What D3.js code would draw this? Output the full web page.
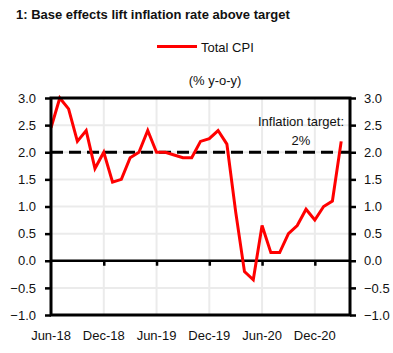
<!DOCTYPE html>
<html>
<head>
<meta charset="utf-8">
<script src="https://cdn.jsdelivr.net/npm/d3@7"></script>
<style>
  body { margin: 0; background: #fff; }
  text { font-family: "Liberation Sans", Arial, sans-serif; fill: #111; }
</style>
</head>
<body>
<div id="chart"></div>
<script>
// データ（月次、Jun-18 〜 Mar-21）
const months = ["Jun-18","Jul-18","Aug-18","Sep-18","Oct-18","Nov-18","Dec-18",
  "Jan-19","Feb-19","Mar-19","Apr-19","May-19","Jun-19","Jul-19","Aug-19","Sep-19","Oct-19","Nov-19","Dec-19",
  "Jan-20","Feb-20","Mar-20","Apr-20","May-20","Jun-20","Jul-20","Aug-20","Sep-20","Oct-20","Nov-20","Dec-20",
  "Jan-21","Feb-21","Mar-21"];
const cpi = [2.45, 3.0, 2.8, 2.2, 2.4, 1.7, 2.0,
  1.45, 1.5, 1.9, 2.0, 2.4, 2.0, 2.0, 1.95, 1.9, 1.9, 2.2, 2.25,
  2.4, 2.15, 0.9, -0.2, -0.35, 0.65, 0.15, 0.15, 0.5, 0.65, 0.95, 0.75,
  1.0, 1.1, 2.2];
const xTickIdx = [0, 6, 12, 18, 24, 30];
const yTicks = [-1.0, -0.5, 0.0, 0.5, 1.0, 1.5, 2.0, 2.5, 3.0];
const target = 2.0;

const width = 393;
const height = 353;
const margin = { top: 98, right: 43, bottom: 38, left: 51 };

const svg = d3.select("#chart").append("svg")
  .attr("width", width)
  .attr("height", height);

const x = d3.scaleLinear().domain([0, 34]).range([margin.left, width - margin.right]);
const y = d3.scaleLinear().domain([-1, 3]).range([height - margin.bottom, margin.top]);

// タイトル
svg.append("text")
  .attr("x", 16).attr("y", 19)
  .style("font-size", "13px").style("font-weight", "bold")
  .text("1: Base effects lift inflation rate above target");

// 凡例
svg.append("line")
  .attr("x1", 157).attr("x2", 197).attr("y1", 46.5).attr("y2", 46.5)
  .attr("stroke", "#ff0000").attr("stroke-width", 3);
svg.append("text")
  .attr("x", 201).attr("y", 52)
  .style("font-size", "13px")
  .text("Total CPI");
svg.append("text")
  .attr("x", 215).attr("y", 85)
  .attr("text-anchor", "middle")
  .style("font-size", "13px")
  .text("(% y-o-y)");

// グリッド
svg.append("g").selectAll("line")
  .data(yTicks)
  .join("line")
  .attr("x1", x(0)).attr("x2", x(34))
  .attr("y1", d => y(d)).attr("y2", d => y(d))
  .attr("stroke", "#ebebeb").attr("stroke-width", 2);
svg.append("g").selectAll("line")
  .data(xTickIdx.slice(1))
  .join("line")
  .attr("x1", d => x(d)).attr("x2", d => x(d))
  .attr("y1", y(3)).attr("y2", y(-1))
  .attr("stroke", "#ebebeb").attr("stroke-width", 2);

// 目標ライン
svg.append("line")
  .attr("x1", x(0)).attr("x2", x(34))
  .attr("y1", y(target)).attr("y2", y(target))
  .attr("stroke", "#000").attr("stroke-width", 3)
  .attr("stroke-dasharray", "12,6");

// ゼロライン + 目盛り
svg.append("g")
  .attr("class", "x-axis")
  .attr("transform", `translate(0, ${y(0)})`)
  .call(d3.axisBottom(x).tickValues(xTickIdx.slice(1)).tickSize(5).tickFormat(""))
  .call(g => g.select(".domain").remove())
  .call(g => g.selectAll(".tick line").attr("stroke", "#000").attr("stroke-width", 2.5));
svg.append("line")
  .attr("x1", x(0)).attr("x2", x(34))
  .attr("y1", y(0)).attr("y2", y(0))
  .attr("stroke", "#000").attr("stroke-width", 2.5);

// 折れ線
const line = d3.line()
  .x((d, i) => x(i))
  .y(d => y(d));
svg.append("path")
  .datum(cpi)
  .attr("fill", "none")
  .attr("stroke", "#ff0000")
  .attr("stroke-width", 3)
  .attr("stroke-linejoin", "miter")
  .attr("d", line);

// 注記
svg.append("text")
  .attr("x", 301).attr("y", 126)
  .attr("text-anchor", "middle")
  .style("font-size", "13px")
  .text("Inflation target:");
svg.append("text")
  .attr("x", 301).attr("y", 145)
  .attr("text-anchor", "middle")
  .style("font-size", "13px")
  .text("2%");

// 枠
svg.append("rect")
  .attr("x", x(0)).attr("y", y(3))
  .attr("width", x(34) - x(0)).attr("height", y(-1) - y(3))
  .attr("fill", "none").attr("stroke", "#000").attr("stroke-width", 3);

// y軸（左右）
const fmt = d3.format(".1f");
svg.append("g")
  .attr("class", "y-axis")
  .attr("transform", `translate(${margin.left}, 0)`)
  .call(d3.axisLeft(y).tickValues(yTicks).tickSize(6).tickPadding(9).tickFormat(fmt))
  .call(g => g.select(".domain").remove())
  .call(g => g.selectAll(".tick line").attr("stroke", "#000").attr("stroke-width", 2.5))
  .call(g => g.selectAll("text").style("font-size", "13px").attr("fill", "#111"));
svg.append("g")
  .attr("class", "y-axis")
  .attr("transform", `translate(${width - margin.right}, 0)`)
  .call(d3.axisRight(y).tickValues(yTicks).tickSize(6).tickPadding(8).tickFormat(fmt))
  .call(g => g.select(".domain").remove())
  .call(g => g.selectAll(".tick line").attr("stroke", "#000").attr("stroke-width", 2.5))
  .call(g => g.selectAll("text").style("font-size", "13px").attr("fill", "#111"));

// x軸ラベル
svg.append("g").selectAll("text")
  .data(xTickIdx)
  .join("text")
  .attr("x", d => x(d))
  .attr("y", 340)
  .attr("text-anchor", "middle")
  .style("font-size", "13px")
  .text(d => months[d]);
</script>
</body>
</html>
